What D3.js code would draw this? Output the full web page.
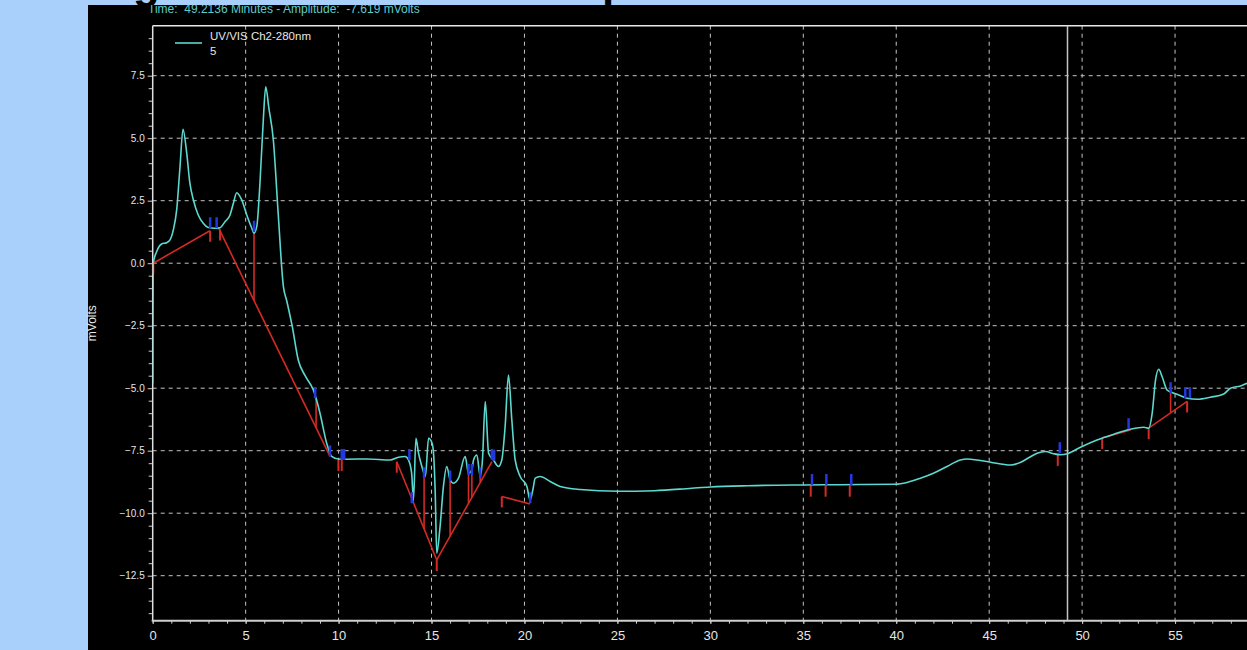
<!DOCTYPE html>
<html>
<head>
<meta charset="utf-8">
<script src="https://cdn.jsdelivr.net/npm/d3@7"></script>
<style>
  html, body { margin: 0; padding: 0; background: #a8d0fa; overflow: hidden; }
  svg { display: block; }
</style>
</head>
<body>
<script>
// ---- Chromatogram: UV/VIS Ch2-280nm, run 5 ----
const traceTime = [0, 0.01, 0.03, 0.21, 0.48, 0.75, 0.93, 1.11, 1.29, 1.47, 1.63, 1.83, 2.0, 2.19, 2.45, 2.72, 2.99, 3.35, 3.62, 3.89, 4.16, 4.34, 4.52, 4.79, 5.06, 5.33, 5.45, 5.6, 5.77, 5.95, 6.08, 6.25, 6.49, 6.75, 7.03, 7.21, 7.5, 7.83, 8.2, 8.64, 8.79, 9.0, 9.36, 9.63, 9.99, 10.44, 11.52, 12.77, 13.22, 13.58, 13.76, 13.93, 14.03, 14.16, 14.3, 14.48, 14.67, 14.84, 15.03, 15.12, 15.2, 15.28, 15.46, 15.64, 15.82, 16.0, 16.18, 16.45, 16.81, 16.99, 17.17, 17.26, 17.44, 17.62, 17.74, 17.89, 18.07, 18.33, 18.6, 18.78, 18.96, 19.14, 19.32, 19.5, 19.77, 20.13, 20.3, 20.45, 20.58, 20.84, 21.38, 21.92, 23, 25, 27, 29, 30, 32, 35, 37, 39.96, 40.58, 41.3, 42.0, 42.73, 43.45, 43.81, 44.35, 45.08, 46.15, 46.7, 47.2, 47.58, 48.03, 48.47, 48.83, 49.21, 49.91, 50.8, 51.7, 52.6, 53.32, 53.58, 53.77, 53.95, 54.12, 54.3, 54.57, 54.84, 55.2, 55.65, 56.19, 56.9, 57.62, 57.98, 58.52, 58.9, 59.5];
const traceMv = [-4.8, -2.0, 0, 0.46, 0.77, 0.82, 0.93, 1.33, 2.13, 3.87, 5.36, 4.4, 3.2, 2.53, 1.93, 1.6, 1.43, 1.4, 1.42, 1.66, 1.93, 2.4, 2.82, 2.53, 1.93, 1.4, 1.2, 1.47, 3.2, 5.73, 7.06, 6.2, 4.93, 2.0, -0.93, -1.5, -2.5, -3.87, -4.5, -5.07, -5.4, -6.0, -7.2, -7.73, -7.83, -7.84, -7.83, -7.87, -7.76, -7.73, -7.87, -8.4, -9.47, -7.0, -7.6, -8.13, -8.53, -7.0, -7.2, -7.73, -9.2, -11.6, -10.53, -8.93, -8.13, -8.67, -8.8, -8.6, -7.73, -8.4, -8.27, -7.87, -7.67, -8.53, -7.87, -5.53, -7.6, -7.87, -8.13, -7.87, -6.53, -4.47, -6.27, -7.87, -8.53, -8.93, -9.47, -9.07, -8.6, -8.53, -8.73, -8.93, -9.05, -9.12, -9.1, -9.0, -8.95, -8.9, -8.87, -8.86, -8.84, -8.77, -8.6, -8.4, -8.13, -7.87, -7.83, -7.87, -7.96, -8.07, -7.96, -7.75, -7.6, -7.53, -7.62, -7.66, -7.62, -7.36, -7.07, -6.84, -6.64, -6.56, -6.6, -6.0, -4.67, -4.24, -4.53, -5.07, -5.17, -5.27, -5.4, -5.44, -5.36, -5.23, -5.0, -4.91, -4.8, -4.75];

// integration baselines (start/end time and level)
const baseStartT  = [0.03, 3.55, 13.13, 15.28, 18.78, 51.08, 53.58];
const baseStartMv = [0.0, 1.4, -7.94, -11.87, -9.33, -6.99, -6.6];
const baseEndT    = [3.08, 9.54, 15.28, 18.25, 20.3, 52.6, 55.65];
const baseEndMv   = [1.3, -7.73, -11.87, -7.94, -9.63, -6.67, -5.53];

// peak drop lines (trace down to baseline)
const dropTime = [5.45, 8.79, 14.0, 14.6, 16.0, 16.99, 17.17, 17.62, 54.76];

// peak start/end event marks
const blueMarkT  = [3.09, 3.44, 5.45, 8.74, 9.54, 10.17, 10.3, 13.81, 13.94, 14.6, 16.0, 16.99, 17.17, 17.62, 18.25, 18.37, 20.31, 35.47, 36.24, 37.58, 48.8, 52.5, 54.76, 55.55, 55.8];
const blueMarkMv = [1.4, 1.4, 1.26, -5.4, -7.73, -7.87, -7.87, -7.87, -9.6, -8.6, -8.73, -8.47, -8.47, -8.6, -7.87, -7.9, -9.6, -8.87, -8.87, -8.87, -7.6, -6.64, -5.2, -5.4, -5.4];
const redMarkT   = [0.03, 3.09, 3.62, 9.99, 10.17, 13.13, 15.28, 18.78, 35.4, 36.2, 37.5, 48.69, 51.08, 53.58, 55.65];
const redMarkMv  = [0.0, 1.3, 1.35, -7.87, -7.87, -7.94, -11.87, -9.33, -8.9, -8.9, -8.9, -7.67, -6.99, -6.6, -5.53];

// axis ticks
const yMajorTicks = [-12.5, -10.0, -7.5, -5.0, -2.5, 0.0, 2.5, 5.0, 7.5];
const xMajorTicks = [0, 5, 10, 15, 20, 25, 30, 35, 40, 45, 50, 55];

const cursorTime = 49.2136;
const cursorAmp = -7.619;
const legendName = "UV/VIS Ch2-280nm";
const legendRun = "5";

// ---- layout ----
const W = 1247, H = 650;
const panel = { x: 88, y: 5 };
const plot = { left: 152.7, top: 25.7, bottom: 620.7, right: 1268 };

const COL_TRACE = "#5cd8cf";
const COL_RED = "#d42a26";
const COL_BLUE = "#2438e0";
const COL_GRID = "#c4c4c4";
const COL_TEXT = "#e6e6e6";

const svg = d3.select("body").append("svg").attr("width", W).attr("height", H);

// slide background and heading descenders above the screenshot
svg.append("rect").attr("width", W).attr("height", H).attr("fill", "#a8d0fa");
svg.append("text").attr("x", 133).attr("y", -2).attr("font-family", "Arial, 'Liberation Sans'")
  .attr("font-size", 44).attr("font-weight", "bold").attr("fill", "#000").text("g");
svg.append("text").attr("x", 602).attr("y", -2).attr("font-family", "Arial, 'Liberation Sans'")
  .attr("font-size", 44).attr("font-weight", "bold").attr("fill", "#000").text("p");

// black chart window
svg.append("rect").attr("x", panel.x).attr("y", panel.y).attr("width", W - panel.x).attr("height", H - panel.y).attr("fill", "#000");

const defs = svg.append("defs");
defs.append("clipPath").attr("id", "panelClip").append("rect")
  .attr("x", panel.x).attr("y", panel.y).attr("width", W - panel.x).attr("height", H - panel.y);
defs.append("clipPath").attr("id", "plotClip").append("rect")
  .attr("x", plot.left).attr("y", plot.top).attr("width", plot.right - plot.left).attr("height", plot.bottom - plot.top);

const x = d3.scaleLinear().domain([0, 60]).range([plot.left, plot.right]);
const y = d3.scaleLinear().domain([-14.3, 9.5]).range([plot.bottom, plot.top]);

// status line
svg.append("g").attr("clip-path", "url(#panelClip)")
  .append("text").attr("x", 148).attr("y", 13)
  .attr("font-family", "Arial, 'Liberation Sans'").attr("font-size", 12).attr("fill", "#5ccccc")
  .attr("xml:space", "preserve")
  .text(`Time:  ${cursorTime.toFixed(4)} Minutes - Amplitude:  ${cursorAmp.toFixed(3)} mVolts`);

// grid
const grid = svg.append("g").attr("stroke", COL_GRID).attr("stroke-width", 1).attr("stroke-dasharray", "4,4");
grid.selectAll("line.v").data(xMajorTicks.filter(d => d > 0)).join("line")
  .attr("x1", d => x(d)).attr("x2", d => x(d)).attr("y1", plot.top).attr("y2", plot.bottom);
grid.selectAll("line.h").data(yMajorTicks).join("line")
  .attr("x1", plot.left).attr("x2", W).attr("y1", d => y(d)).attr("y2", d => y(d));

// axes
const yMinor = d3.range(-14, 9.01, 0.5).filter(v => !yMajorTicks.some(m => Math.abs(m - v) < 1e-6));
const yAxisMinor = svg.append("g").attr("transform", `translate(${plot.left},0)`)
  .call(d3.axisLeft(y).tickValues(yMinor).tickSize(4).tickFormat(""));
const yAxis = svg.append("g").attr("transform", `translate(${plot.left},0)`)
  .call(d3.axisLeft(y).tickValues(yMajorTicks).tickSize(5).tickPadding(3).tickFormat(d3.format(".1f")));
const xMinor = d3.range(0, 61, 1);
const xAxisMinor = svg.append("g").attr("transform", `translate(0,${plot.bottom})`)
  .call(d3.axisBottom(x).tickValues(xMinor).tickSize(3).tickFormat(""));
const xAxis = svg.append("g").attr("transform", `translate(0,${plot.bottom})`)
  .call(d3.axisBottom(x).tickValues(xMajorTicks).tickSize(3).tickPadding(7).tickFormat(d3.format("d")));

[yAxisMinor, yAxis, xAxisMinor, xAxis].forEach(g => {
  g.select(".domain").remove();
  g.selectAll(".tick line").attr("stroke", "#d0d0d0").attr("stroke-width", 1);
});
yAxis.selectAll("text").attr("fill", COL_TEXT).attr("font-size", 10).attr("font-family", "Arial, 'Liberation Sans'");
xAxis.selectAll("text").attr("fill", COL_TEXT).attr("font-size", 13).attr("font-family", "'Liberation Sans Narrow', 'Arial Narrow', Arial");

// frame lines
svg.append("line").attr("x1", plot.left).attr("x2", plot.left).attr("y1", plot.top).attr("y2", plot.bottom)
  .attr("stroke", "#e0e0e0").attr("stroke-width", 1.5);
svg.append("line").attr("x1", plot.left).attr("x2", W).attr("y1", plot.top).attr("y2", plot.top)
  .attr("stroke", "#e8e8e8").attr("stroke-width", 1.5);
svg.append("line").attr("x1", plot.left - 1).attr("x2", W).attr("y1", plot.bottom).attr("y2", plot.bottom)
  .attr("stroke", "#cfcfcf").attr("stroke-width", 2);

// y axis title
svg.append("text").attr("transform", `translate(96,${(plot.top + plot.bottom) / 2}) rotate(-90)`)
  .attr("text-anchor", "middle").attr("font-family", "Arial, 'Liberation Sans'").attr("font-size", 12)
  .attr("fill", COL_TEXT).text("mVolts");

// cursor
svg.append("line").attr("x1", x(cursorTime)).attr("x2", x(cursorTime)).attr("y1", plot.top).attr("y2", plot.bottom)
  .attr("stroke", "#c4c4c4").attr("stroke-width", 1.5);

const layer = svg.append("g").attr("clip-path", "url(#plotClip)");

// interpolators for trace and baselines
const traceAt = d3.scaleLinear().domain(traceTime).range(traceMv);
function baseAt(t) {
  for (let i = 0; i < baseStartT.length; i++) {
    if (t >= baseStartT[i] && t <= baseEndT[i]) {
      return baseStartMv[i] + (t - baseStartT[i]) / (baseEndT[i] - baseStartT[i]) * (baseEndMv[i] - baseStartMv[i]);
    }
  }
  return traceAt(t);
}

// baselines
layer.selectAll("line.base").data(d3.range(baseStartT.length)).join("line")
  .attr("x1", i => x(baseStartT[i])).attr("y1", i => y(baseStartMv[i]))
  .attr("x2", i => x(baseEndT[i])).attr("y2", i => y(baseEndMv[i]))
  .attr("stroke", COL_RED).attr("stroke-width", 1.6);

// drop lines
layer.selectAll("line.drop").data(dropTime).join("line")
  .attr("x1", t => x(t)).attr("x2", t => x(t))
  .attr("y1", t => y(traceAt(t))).attr("y2", t => y(baseAt(t)))
  .attr("stroke", COL_RED).attr("stroke-width", 1.6);

// red event marks (below)
layer.selectAll("line.rmark").data(d3.range(redMarkT.length)).join("line")
  .attr("x1", i => x(redMarkT[i])).attr("x2", i => x(redMarkT[i]))
  .attr("y1", i => y(redMarkMv[i])).attr("y2", i => y(redMarkMv[i]) + 11)
  .attr("stroke", COL_RED).attr("stroke-width", 2);

// trace
const line = d3.line().x((d, i) => x(traceTime[i])).y((d, i) => y(traceMv[i])).curve(d3.curveMonotoneX);
layer.append("path").datum(traceMv).attr("d", line)
  .attr("fill", "none").attr("stroke", COL_TRACE).attr("stroke-width", 1.6);

// blue event marks (above)
layer.selectAll("line.bmark").data(d3.range(blueMarkT.length)).join("line")
  .attr("x1", i => x(blueMarkT[i])).attr("x2", i => x(blueMarkT[i]))
  .attr("y1", i => y(blueMarkMv[i])).attr("y2", i => y(blueMarkMv[i]) - 11)
  .attr("stroke", COL_BLUE).attr("stroke-width", 2.5);

// legend
svg.append("line").attr("x1", 175).attr("x2", 202).attr("y1", 43).attr("y2", 43)
  .attr("stroke", COL_TRACE).attr("stroke-width", 1.6);
svg.append("text").attr("x", 210).attr("y", 40).attr("font-family", "Arial, 'Liberation Sans'")
  .attr("font-size", 11.5).attr("fill", COL_TEXT).text(legendName);
svg.append("text").attr("x", 210).attr("y", 55).attr("font-family", "Arial, 'Liberation Sans'")
  .attr("font-size", 11.5).attr("fill", COL_TEXT).text(legendRun);
</script>
</body>
</html>
